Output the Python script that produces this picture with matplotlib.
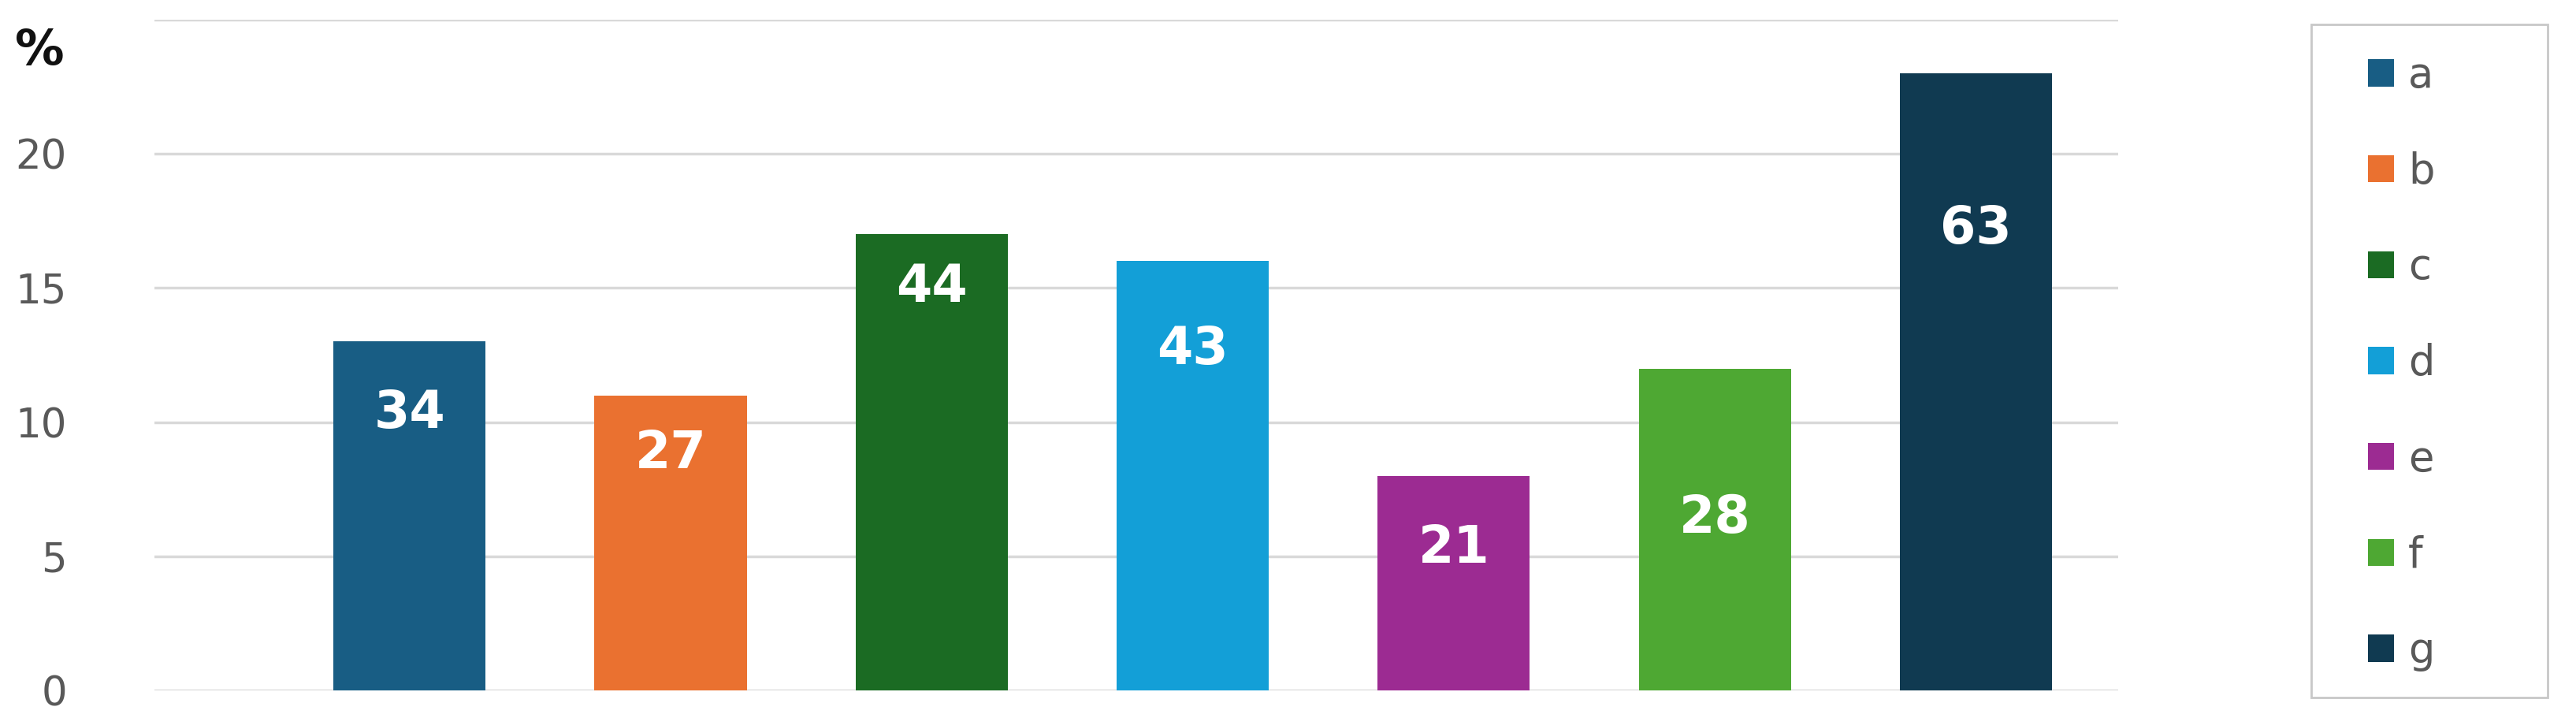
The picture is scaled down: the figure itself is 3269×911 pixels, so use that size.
import matplotlib
matplotlib.use('Agg')
import matplotlib.pyplot as plt
from matplotlib.patches import Patch, Rectangle
import numpy as np

# data
categories = ['a', 'b', 'c', 'd', 'e', 'f', 'g']
values = [13, 11, 17, 16, 8, 12, 23]
bar_labels = ['34', '27', '44', '43', '21', '28', '63']
colors = ['#185d84', '#ea7130', '#1b6b23', '#139fd7', '#9c2b92', '#4ea833', '#103a51']
# where the white number sits inside each bar (data units)
label_pos = [10.3, 8.8, 15.0, 12.7, 5.3, 6.4, 17.2]
yticks = [0, 5, 10, 15, 20, 25]
ytick_labels = ['0', '5', '10', '15', '20', '']

W, H = 3269, 911
fig = plt.figure(figsize=(W / 100, H / 100), dpi=100)
ax = fig.add_axes([196 / W, 1 - 876 / H, (2688 - 196) / W, (876 - 25) / H])

xs = np.arange(len(categories))
ax.bar(xs, values, width=0.583, color=colors, zorder=3)

for x, lab, y in zip(xs, bar_labels, label_pos):
    ax.text(x, y, lab, ha='center', va='center', color='white',
            fontsize=47, fontweight='bold', family='DejaVu Sans', zorder=4)

ax.set_xlim(-0.977, 6.545)
ax.set_ylim(0, 25)
ax.set_yticks(yticks)
ax.set_yticklabels(ytick_labels)
ax.set_xticks([])
ax.tick_params(axis='y', length=0, pad=80, labelsize=37, labelcolor='#595959')
ax.grid(axis='y', color='#d9d9d9', linewidth=2.5, zorder=0)
for s in ax.spines.values():
    s.set_visible(False)

fig.text(50 / W, 1 - 65 / H, '%', ha='center', va='center',
         fontsize=45, fontweight='bold', color='#111111')

# legend frame
fig.patches.append(Rectangle((2933 / W, 1 - 885 / H), 300 / W, 854 / H,
                             transform=fig.transFigure, fill=False,
                             edgecolor='#c8c8c8', linewidth=2))
handles = [Patch(facecolor=c, edgecolor='none') for c in colors]
fig.legend(handles, categories, loc='upper left',
           bbox_to_anchor=(3005 / W, 1 - 70 / H), frameon=False,
           fontsize=38, labelcolor='#595959', handlelength=0.62,
           handleheight=0.62, handletextpad=0.35, labelspacing=1.32,
           borderpad=0, borderaxespad=0)

fig.savefig('out.png', dpi=100, facecolor='white')
